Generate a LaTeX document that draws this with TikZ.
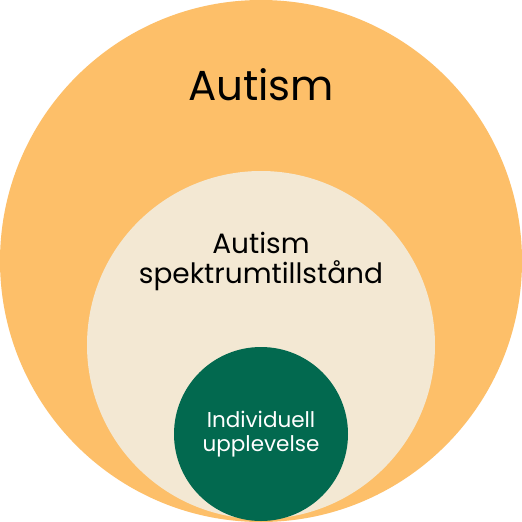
\documentclass[tikz,border=0pt]{standalone}
\usepackage{fontspec}
\setmainfont{Poppins}
\definecolor{outerc}{HTML}{FDBF69}
\definecolor{midc}{HTML}{F3E8D3}
\definecolor{innerc}{HTML}{02694F}
\begin{document}
\begin{tikzpicture}[x=1pt,y=-1pt,
  lbl/.style={anchor=base,inner sep=0pt,align=center}]
\useasboundingbox (0,0) rectangle (522,522);
\fill[white] (0,0) rectangle (522,522);
\fill[outerc] (261,261) circle (261);
\fill[midc] (261,345) circle (174);
\fill[innerc] (261,434) circle (87);
\node[lbl,font=\fontsize{42}{50}\selectfont] (t1) at (261,100) {Autism};
\node[lbl,font=\fontsize{28}{34}\selectfont] (t2) at (261,253) {Autism};
\node[lbl,font=\fontsize{28}{34}\selectfont] (t3) at (261,283) {spektrumtillstånd};
\node[lbl,text=white,font=\fontsize{21.5}{26}\selectfont] (t4) at (261,427) {Individuell};
\node[lbl,text=white,font=\fontsize{21.5}{26}\selectfont] (t5) at (261,451) {upplevelse};
\end{tikzpicture}
\end{document}
